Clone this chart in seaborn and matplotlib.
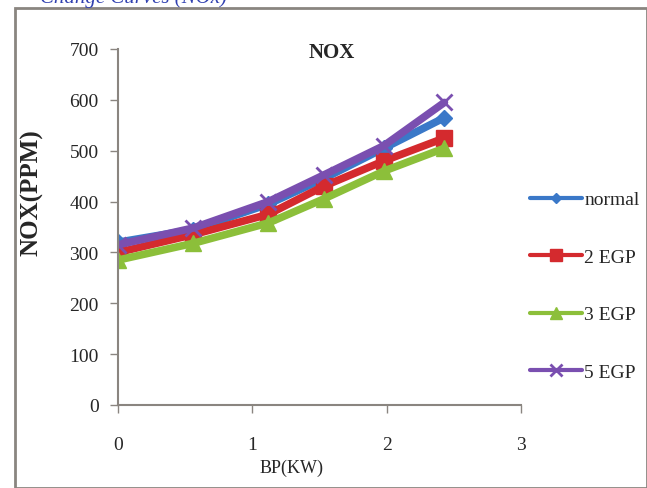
import numpy as np
import pandas as pd
import matplotlib
matplotlib.use("Agg")
import matplotlib.pyplot as plt
import seaborn as sns
from matplotlib.patches import Rectangle
from matplotlib.lines import Line2D

# ---- data ----
bp = [0, 0.56, 1.12, 1.53, 1.98, 2.43]
normal = [320, 345, 395, 445, 505, 565]
egp2 = [300, 335, 375, 430, 480, 525]
egp3 = [285, 318, 358, 405, 460, 505]
egp5 = [315, 348, 400, 452, 510, 595]
series_names = ["normal", "2 EGP", "3 EGP", "5 EGP"]
x_ticks = [0, 1, 2, 3]
y_ticks = [0, 100, 200, 300, 400, 500, 600, 700]

df = pd.concat([
    pd.DataFrame({"BP": bp, "NOX": v, "series": n})
    for n, v in zip(series_names, [normal, egp2, egp3, egp5])
])

colors = {"normal": "#3A78C8", "2 EGP": "#D42A2E", "3 EGP": "#8CBF3A", "5 EGP": "#7A4FB0"}
markers = {"normal": "D", "2 EGP": "s", "3 EGP": "^", "5 EGP": "x"}
msizes = {"normal": 8, "2 EGP": 12, "3 EGP": 12, "5 EGP": 12}
mews = {"normal": 1, "2 EGP": 1, "3 EGP": 1, "5 EGP": 2}

sns.set_style("white")
plt.rcParams["font.family"] = ["Liberation Serif", "DejaVu Serif"]

fig = plt.figure(figsize=(6.47, 4.89), dpi=100)
# outer frame
fig.patches.append(Rectangle((15 / 647, 0.0), (647 - 15) / 647, 1 - 9 / 489,
                             transform=fig.transFigure, fill=False,
                             edgecolor="#8a8580", linewidth=2.0))
fig.text(40 / 647, 1.0 + 2 / 489, "Change Curves (NOx)", color="#3040b0",
         fontsize=15, style="italic", va="center", ha="left")

ax = fig.add_axes([118 / 647, 1 - 406 / 489, (521 - 118) / 647, (406 - 50) / 489])

for n in series_names:
    sub = df[df["series"] == n]
    sns.lineplot(data=sub, x="BP", y="NOX", ax=ax, color=colors[n],
                 marker=markers[n], markersize=msizes[n], linewidth=5.5,
                 markeredgecolor=colors[n], markeredgewidth=mews[n], legend=False)

ax.set_xlim(0, 3)
ax.set_ylim(0, 700)
ax.set_xticks(x_ticks)
ax.set_yticks(y_ticks)
ax.tick_params(axis="x", direction="out", length=6, width=1, color="#8a8580",
               pad=16, labelsize=14)
ax.tick_params(axis="y", direction="out", length=6, width=1, color="#8a8580",
               pad=8, labelsize=14)
ax.tick_params(left=True, bottom=True)
for s in ["top", "right"]:
    ax.spines[s].set_visible(False)
for s in ["left", "bottom"]:
    ax.spines[s].set_color("#8a8580")
    ax.spines[s].set_linewidth(1.5)

ax.set_xlabel("BP(KW)", fontsize=13)
ax.xaxis.set_label_coords(0.43, -0.15)
ax.set_ylabel("NOX(PPM)", fontsize=18, fontweight="bold")
ax.yaxis.set_label_coords(-0.185, 0.6)
ax.set_title("NOX", fontsize=15, fontweight="bold", x=0.53, y=0.955)

handles = [Line2D([0], [0], color=colors[n], lw=3, marker=markers[n],
                  markersize=msizes[n] * 0.7, markeredgecolor=colors[n],
                  markeredgewidth=mews[n])
           for n in series_names]
leg = fig.legend(handles, series_names, loc="upper left",
                 bbox_to_anchor=(522 / 647, 1 - 184 / 489), frameon=False,
                 fontsize=14, handlelength=2.7, handletextpad=0.1,
                 labelspacing=2.05, borderaxespad=0)

fig.savefig("out.png", dpi=100)
